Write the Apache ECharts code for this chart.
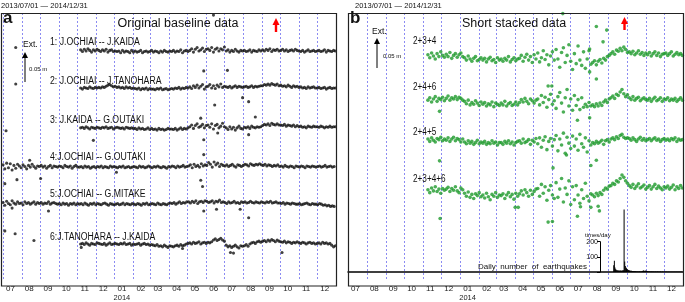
<!DOCTYPE html>
<html>
<head>
<meta charset="utf-8">
<script src="https://cdn.jsdelivr.net/npm/echarts@6/dist/echarts.min.js"></script>
<style>html,body{margin:0;padding:0;background:#fff}#main{width:685px;height:302px}</style>
</head>
<body>
<div id="main"></div>
<script>
var DAY = 86400000;
var T0 = new Date(2013, 6, 1).getTime();
var T1 = new Date(2015, 0, 1).getTime();

// a: original baselines, change in mm, one value every 3 days
var namesA = ['1: J.OCHIAI -- J.KAIDA', '2: J.OCHIAI -- J.TANOHARA', '3: J.KAIDA -- G.OUTAKI',
  '4:J.OCHIAI -- G.OUTAKI', '5:J.OCHIAI -- G.MITAKE', '6:J.TANOHARA -- J.KAIDA'];
var startA = [128, 128, 128, 0, 0, 128]; // first day (from 2013/07/01)

var base1 = [2,-1,3,0,4,1,-2,2,0,3, 1,-1,2,0,3,-2,1,2,-1,0, -1,0,-3,1,-2,0,-1,-3,1,-2,
  0,-2,-1,1,-3,-1,0,-2,-1,1, -2,0,-1,-3,0,-2,1,-1,-2,0, -1,1,-2,0,-1,2,-3,0,1,-1,
  1,4,-2,3,6,0,2,5,-1,3, 4,1,6,-2,3,5,0,4,2,7, 0,2,-2,1,-1,3,0,-2,1,0,
  1,-1,0,2,-2,1,0,-1,2,0, 2,0,3,1,4,-1,2,1,3,0, 1,3,0,2,-1,1,2,0,3,1,
  0,-1,1,-2,0,2,-1,0,1,-1, 0,1,-1,0,2,-2,1,0,-1,1, 0];
var base2 = [0,-2,1,0,-1,2,0,-1,1,0, 1,0,2,1,3,5,6,4,2,3, 1,2,0,1,-1,2,0,1,-1,0,
  -1,-2,0,-3,-1,-2,0,-3,-1,-2, -2,-3,-1,-2,0,-3,-2,-1,-3,-2, -1,-2,0,-1,1,-2,0,-1,1,0,
  2,-1,4,1,5,0,3,6,-2,2, 3,6,0,4,-1,5,2,7,1,3, 2,1,3,0,2,4,1,3,2,1,
  2,3,1,2,4,1,3,2,3,4, 4,6,5,7,5,8,6,5,7,4, 5,3,4,2,5,3,1,4,2,3,
  1,2,0,1,-1,2,0,1,2,0, 0,1,-1,0,1,-2,0,1,-1,0, 0];
var base3 = [0,1,-1,2,0,-2,1,0,-1,1, 0,-1,1,0,2,-1,0,1,-2,0, 1,0,-1,0,-2,1,0,-1,0,-1,
  -1,-3,0,-2,-1,-3,-2,0,-3,-1, -3,-2,-4,-1,-3,-2,-4,-3,-1,-2, -2,-3,-1,-4,-2,0,-3,-1,-2,0,
  2,5,-1,4,7,1,3,6,0,4, 5,1,7,-2,4,6,0,3,8,2, 0,-3,2,-2,1,-4,0,3,-1,-2,
  1,0,2,-1,3,1,0,2,1,2, 4,6,5,7,4,8,6,5,7,5, 5,4,6,3,5,4,3,5,2,4,
  2,3,1,2,0,3,2,1,3,2, 2,1,3,2,0,2,1,3,1,2, 2];
var base4 = [3,-4,6,-2,5,-6,2,-3,4,1, -2,3,0,-4,2,-1,4,0,-3,1, 0,2,-1,1,-3,0,2,-2,1,0,
  -1,1,0,-2,2,0,-1,1,-3,0,2,-1,
  -1,0,-2,1,-1,0,-3,-1,0,-2, 0,-1,1,-2,0,-1,-2,1,-1,0, -1,-2,0,-1,1,-2,-1,0,-2,-1,
  0,-1,-2,1,-1,0,-2,-1,1,-1, -2,0,-1,1,-1,-2,0,-1,-3,0, -1,1,0,-2,1,-1,0,2,-1,0,
  1,3,-2,4,0,2,-1,5,1,3, 2,7,4,-1,8,3,6,0,4,2, 1,3,0,2,4,1,-1,3,2,0,
  2,4,3,1,5,3,2,4,3,5, 3,2,4,1,3,2,0,2,1,3, 0,1,-1,2,0,-1,1,0,-2,1,
  0,-1,1,0,-2,1,0,-1,1,0, -1,0,1,-1,0,2,-1,0,1,-1, 0];
var base5 = [2,-3,4,0,-2,5,1,-1,3,0, 1,-2,3,0,2,-1,1,3,-1,2, 0,2,-1,1,0,3,-1,1,2,0,
  -1,0,-2,1,-1,0,-3,0,-1,1,-2,0,
  -1,0,-2,1,-1,-3,0,-1,1,-2, 0,-1,-2,0,1,-1,-3,0,-1,-2, -1,0,-2,-1,1,-2,0,-1,-2,0,
  -1,-2,0,-1,-3,0,-1,1,-2,-1, 0,-1,-2,1,-1,-2,0,-1,-2,0, 1,0,2,-1,1,3,0,2,1,3,
  3,1,4,2,5,0,3,4,2,5, 4,2,3,5,1,4,3,6,2,3, 2,0,3,1,2,4,1,2,0,3,
  2,3,1,2,4,2,1,3,2,1, 3,2,1,3,2,4,1,2,3,1, 1,0,2,-1,1,0,-1,1,0,-1,
  -1,0,-2,-1,0,1,-1,-2,0,-1, -1,-2,0,-1,-3,-2,-4,-3,-5,-4, -5];
var base6 = [0,1,-1,2,0,-2,1,0,-1,2, 1,0,-1,1,-2,0,2,-1,0,1, 0,-1,1,0,2,-1,0,1,-2,0,
  -1,0,1,-2,0,1,-1,0,-2,-1, -2,-3,-1,-4,-3,-5,-2,-4,-6,-3, -4,-5,-3,-2,-4,-1,-3,-2,0,1,
  2,0,3,1,2,4,0,2,3,1, 3,2,4,7,9,6,8,10,7,5, -2,-5,-3,-6,-4,-2,-5,-7,-3,-4,
  -3,-1,-4,0,2,3,1,4,5,3, 5,6,4,7,5,8,6,4,7,5, 4,3,5,2,4,3,1,3,2,4,
  2,1,3,2,0,2,3,1,2,0, 1,2,0,3,1,2,0,1,-2,-5, -3];
// stray points: [baseline, day, mm]
var strayA = [[0,21,6],[1,21,7],[2,5,-5],[0,347,63],[1,331,30],[1,370,31],[1,349,-30],[1,395,-17],
  [1,405,-24],[2,149,-22],[2,331,-21],[2,326,17],[2,354,-9],[2,405,-12],[2,416,19],[3,331,21],
  [3,44,11],[4,3,35],[4,23,42],[4,62,44],[3,187,-10],[3,326,-24],[4,329,30],[5,3,23],[5,20,18],
  [5,51,6],[4,15,-8],[4,75,-13],[4,331,-13],[4,352,-10],[4,391,-10],[5,405,46],[5,375,-15],
  [5,380,-16],[5,460,-15],[5,129,-6],[5,296,-8]];

// b: short stacked data, mm, every 3 days from day 131
var namesB = ['2+3+4', '2+4+6', '2+4+5', '2+3+4+6'];
var startB = 131;
var stack1 = [3,-2,6,1,-4,5,0,8,2,-1, 4,0,7,-3,2,5,-1,3,6,0, -2,-6,1,-4,-8,-3,0,-7,-5,-2,
  -6,-3,-9,-4,-1,-7,-5,-10,-2,-6, -4,-8,-3,-6,0,-9,-5,-2,-7,-4, -3,2,-8,-1,4,-6,0,-10,3,-4,
  6,-9,-2,10,-5,3,-14,1,8,-6, 12,-4,-18,7,15,-10,2,20,-8,-22, 5,-12,18,-6,-15,8,-20,-4,10,-13,
  -10,-7,-14,-8,-5,-11,-3,-6,0,2, 5,8,4,11,9,14,10,16,12,7, 8,5,9,3,6,10,4,7,2,6,
  3,7,1,5,8,2,6,0,4,5, 6,2,5,8,1,4,7,3,5,2];
var stack2 = [2,6,-1,4,8,0,5,3,7,1, 5,9,2,6,4,8,3,7,5,2, 0,-4,2,-6,-2,-5,1,-3,-7,-1,
  -5,-2,-8,-4,-6,-1,-9,-3,-5,-7, -3,-6,0,-8,-4,-2,-7,-5,-1,-6, -2,3,-1,5,0,-4,4,1,-3,2,
  4,-6,10,-2,7,-10,3,12,-5,1, -12,8,15,-3,-18,6,20,-8,4,-15, 10,-7,3,-14,6,-10,-5,-9,-2,-8,
  -6,-9,-4,-8,-3,-7,-1,2,-2,4, 6,9,5,12,10,16,20,13,8,11, 6,3,8,2,5,7,1,4,6,3,
  2,5,0,4,7,1,3,6,0,4, 3,6,1,4,2,5,0,3,6,2];
var stack3 = [4,0,6,2,-1,5,3,7,1,4, 2,6,0,4,7,1,5,3,-1,4, -1,-4,1,-3,0,-5,-2,2,-4,-1,
  -3,0,-5,-2,-4,1,-3,-1,-6,-2, -2,-5,0,-3,1,-4,-1,-6,-2,0, 1,-3,4,-2,0,3,-5,2,-1,5,
  -4,6,-10,2,8,-14,0,5,-8,3, 10,-16,4,-6,14,-20,7,-3,-12,9, -8,4,-15,12,-4,-10,6,-18,1,-6,
  -2,-4,0,-3,-1,2,-5,1,3,-1, 4,6,3,8,5,10,12,7,5,6, 5,2,6,3,0,4,7,2,5,1,
  3,5,1,4,6,2,4,0,3,5, 2,4,1,5,3,6,0,4,2,3];
var stack4 = [3,-2,6,1,8,0,4,-3,5,2, 4,7,0,5,2,8,1,-2,6,3, -3,-8,-1,-10,-5,-12,-4,-7,-2,-9,
  -6,-11,-3,-9,-14,-5,-8,-2,-10,-6, -7,-4,-12,-6,-2,-9,-5,-13,-3,-8, -4,1,-6,3,-2,-8,2,-5,0,4,
  5,-8,12,-3,8,-15,2,10,-6,-12, 15,-10,4,22,-18,6,-5,18,-22,8, -14,10,-6,-20,3,-12,14,-8,-16,-4,
  -6,-9,-3,-7,-2,-5,2,6,4,9, 10,14,12,18,16,22,28,24,18,14, 10,7,12,5,9,13,6,8,11,4,
  7,10,4,8,12,5,9,6,3,8, 6,9,4,7,11,3,8,5,10,6];
var strayB = [[0,352,73],[0,407,51],[0,424,45],[0,418,25],[0,396,13],[1,407,38],[0,396,-26],
  [1,328,26],[1,334,26],[1,376,-32],[1,396,-28],[1,150,-17],[2,150,-33],[3,336,40],[3,398,44],
  [2,407,-32],[2,358,-23],[3,151,-46],[3,274,-27],[3,279,-27],[3,328,-52],[3,335,-51],
  [3,376,-42],[3,381,-26],[3,398,-27],[3,412,-33],[3,410,-25]];

// daily number of earthquakes from 2014/09/01
var quakeStart = 427;
var quakes = [0,0,0,0,0,0,0,0,0, 45,75,30,18,15,12,10,12,9,10, 8,10,9,8,11,9,12,
  413,70,40,30, 25,20,15,14,12,10,9,8,8,7, 7,6,6,5,6,5,4,5,4,4, 4,5,4,3,4,5,6,8,10,9,7,
  8,10,7,6,5,4,5,4,3,4, 3,4,3,3,4,2,3,3,2,3, 3,2,3,2,4,3,2,2,3,2,
  2,3,2,2,3,2,2,1,2,2, 2,1,2,2,1,2,2,1,2,1, 1,2,1,1,2,1,1,2,1,1,1];

var valsA = [base1, base2, base3, base4, base5, base6];
var valsB = [stack1, stack2, stack3, stack4];
// layout: baseline heights inside each panel (mm above the frame bottom)
var rowA = [404, 339, 269, 201, 136, 65];
var rowB = [381, 305, 237, 152];
var rowAy = [42.7, 81.7, 120, 157, 194, 237];
var rowBy = [41.7, 87, 132.7, 179];

function pts(vals, start, off) {
    return vals.map(function (v, i) {
        return [T0 + (start + i * 3) * DAY, off + v];
    });
}
function stray(list, k, off) {
    return list.filter(function (o) { return o[0] === k; }).map(function (o) {
        return [T0 + o[1] * DAY, off + o[2]];
    });
}

function timeAxis(grid, show) {
    return {
        type: 'time', gridIndex: grid, min: T0, max: T1,
        minInterval: 28 * DAY, maxInterval: 31 * DAY,
        axisLine: { show: !show, lineStyle: { color: '#000', width: 1.5 } },
        axisTick: { show: false },
        splitLine: { show: show, lineStyle: { color: '#8b8bf2', type: [2, 2], width: 1 } },
        axisLabel: {
            show: show, align: 'left', margin: 4, fontSize: 8, color: '#222',
            fontFamily: 'Liberation Sans', padding: [0, 0, 0, 3], lineHeight: 8,
            formatter: function (v) {
                var d = new Date(v), m = d.getMonth() + 1, y = d.getFullYear();
                if (y > 2014) return '';
                var s = (m < 10 ? '0' : '') + m;
                return (m === 1) ? s + '\n{y|' + y + '}' : s;
            },
            rich: { y: { fontSize: 7.5, lineHeight: 9, fontFamily: 'Liberation Sans', padding: [0, 0, 0, -4] } }
        }
    };
}

var series = [];
valsA.forEach(function (vals, k) {
    series.push({
        type: 'scatter', xAxisIndex: 0, yAxisIndex: 0, symbolSize: 3.1, silent: true,
        itemStyle: { color: '#111' },
        data: pts(vals, startA[k], rowA[k]).concat(stray(strayA, k, rowA[k]))
    });
});
valsB.forEach(function (vals, k) {
    series.push({
        type: 'scatter', xAxisIndex: 1, yAxisIndex: 1, symbolSize: 3.6, silent: true,
        itemStyle: { color: '#1e9a2c' },
        data: pts(vals, startB, rowB[k]).concat(stray(strayB, k, rowB[k]))
    });
});
series.push({
    type: 'bar', xAxisIndex: 2, yAxisIndex: 2, barWidth: 1, clip: false, silent: true,
    itemStyle: { color: '#000' },
    data: quakes.map(function (v, i) { return [T0 + (quakeStart + i) * DAY, v]; })
});

var graphic = [];
function txt(x, y, s, size, extra, sx) {
    var st = { text: s, x: 0, y: 0, fontSize: size, fill: '#111', fontFamily: 'Liberation Sans',
        textVerticalAlign: 'middle' };
    for (var k in extra) st[k] = extra[k];
    graphic.push({ type: 'text', z: 100, x: x, y: y, scaleX: sx || 1, style: st });
}
function frame(x, w) {
    graphic.push({ type: 'rect', z: 100, shape: { x: x + 0.5, y: 13.5, width: w, height: 272.5 },
        style: { fill: 'none', stroke: '#222', lineWidth: 1.2 } });
}
function redArrow(x, top, bottom) {
    graphic.push({ type: 'polygon', z: 100, shape: { points: [[x - 3.5, top + 7], [x, top], [x + 3.5, top + 7]] }, style: { fill: '#f00' } });
    graphic.push({ type: 'rect', z: 100, shape: { x: x - 1.2, y: top + 6, width: 2.4, height: bottom - top - 6 }, style: { fill: '#f00' } });
}
function extArrow(x, top, bottom, tx, ty, sx, sy) {
    graphic.push({ type: 'line', z: 100, shape: { x1: x, y1: top + 4, x2: x, y2: bottom }, style: { stroke: '#000', lineWidth: 1 } });
    graphic.push({ type: 'polygon', z: 100, shape: { points: [[x - 3, top + 6], [x, top], [x + 3, top + 6]] }, style: { fill: '#000' } });
    txt(tx, ty, 'Ext.', 8.5);
    txt(sx, sy, '0.05 m', 6);
}

frame(1, 335);
frame(348, 335);
txt(1, 6, '2013/07/01 \u2014 2014/12/31', 7.5);
txt(355, 6, '2013/07/01 \u2014 2014/12/31', 7.5);
txt(3, 18, 'a', 17, { fontWeight: 'bold' });
txt(350, 18, 'b', 17, { fontWeight: 'bold' });
txt(178, 24, 'Original baseline data', 12.5, { textAlign: 'center' });
txt(514, 24, 'Short stacked data', 12.5, { textAlign: 'center' });
redArrow(276, 18, 32);
redArrow(624.5, 17, 30);
extArrow(25, 52, 82, 23, 45, 29, 69);
extArrow(377, 38, 68, 372, 32, 383, 56);
namesA.forEach(function (n, k) { txt(50, rowAy[k], n, 10, null, 0.87); });
namesB.forEach(function (n, k) { txt(413, rowBy[k], n, 10, null, 0.82); });
txt(478, 267, 'Daily  number  of  earthquakes', 8);
txt(585, 235, 'times/day', 6);

var chart = echarts.init(document.getElementById('main'), null, { renderer: 'canvas' });
chart.setOption({
    animation: false,
    backgroundColor: '#fff',
    grid: [
        { left: 1, top: 13, width: 335, height: 273 },
        { left: 348, top: 13, width: 335, height: 273 },
        { left: 348, top: 241.7, width: 335, height: 30.3 }
    ],
    xAxis: [timeAxis(0, true), timeAxis(1, true), timeAxis(2, false)],
    yAxis: [
        { type: 'value', gridIndex: 0, min: 0, max: 273 / 0.58, show: false },
        { type: 'value', gridIndex: 1, min: 0, max: 273 / 0.6, show: false },
        {
            type: 'value', gridIndex: 2, min: 0, max: 200, interval: 100, position: 'left', offset: -252,
            axisLine: { show: true, lineStyle: { color: '#000' } },
            axisTick: { show: true, length: 3, lineStyle: { color: '#000' } },
            splitLine: { show: false },
            axisLabel: { fontSize: 7, color: '#111', margin: 2, formatter: function (v) { return v ? v : ''; } }
        }
    ],
    series: series,
    graphic: graphic
});
</script>
</body>
</html>
